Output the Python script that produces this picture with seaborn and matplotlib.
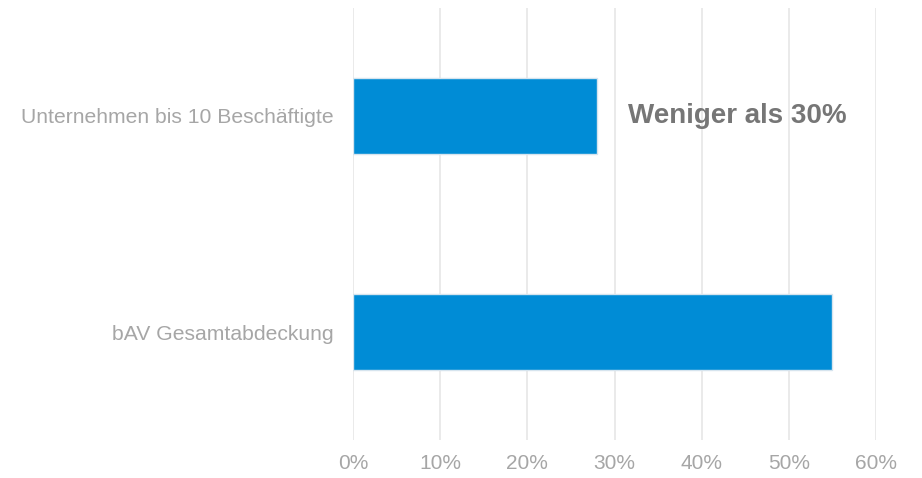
import matplotlib
matplotlib.use("Agg")
import matplotlib.pyplot as plt
import seaborn as sns
import pandas as pd
from matplotlib.ticker import FuncFormatter

categories = ["Unternehmen bis 10 Beschäftigte", "bAV Gesamtabdeckung"]
values = [28, 55]
x_ticks = [0, 10, 20, 30, 40, 50, 60]
annotation = "Weniger als 30%"

sns.set_theme(style="white")
plt.rcParams["font.family"] = ["Liberation Sans", "DejaVu Sans"]

df = pd.DataFrame({"cat": categories, "val": values})

fig = plt.figure(figsize=(9.22, 4.78), dpi=100)
ax = fig.add_axes([353/922, 1 - 440/478, (876-353)/922, (440-8)/478])

sns.barplot(data=df, x="val", y="cat", orient="h", color="#008cd6",
            saturation=1, width=0.35, edgecolor="#d6e4ee", linewidth=1, ax=ax, zorder=3)

ax.set_xlim(0, 60)
ax.set_ylim(1.5, -0.5)
ax.set_xticks(x_ticks)
ax.xaxis.set_major_formatter(FuncFormatter(lambda v, p: f"{int(v)}%"))
ax.grid(axis="x", color="#e6e6e6", linewidth=1.2, zorder=0)
ax.grid(axis="y", visible=False)
for s in ax.spines.values():
    s.set_visible(False)
ax.set_xlabel("")
ax.set_ylabel("")
ax.tick_params(axis="x", length=0, pad=10, labelsize=15, labelcolor="#a6a6a6")
ax.tick_params(axis="y", length=0, pad=14, labelsize=15.2, labelcolor="#a6a6a6")

ax.text(31.5, 0.0, annotation, ha="left", va="center", fontsize=20,
        fontweight="bold", color="#767676", zorder=4)

fig.savefig("out.png", dpi=100)
